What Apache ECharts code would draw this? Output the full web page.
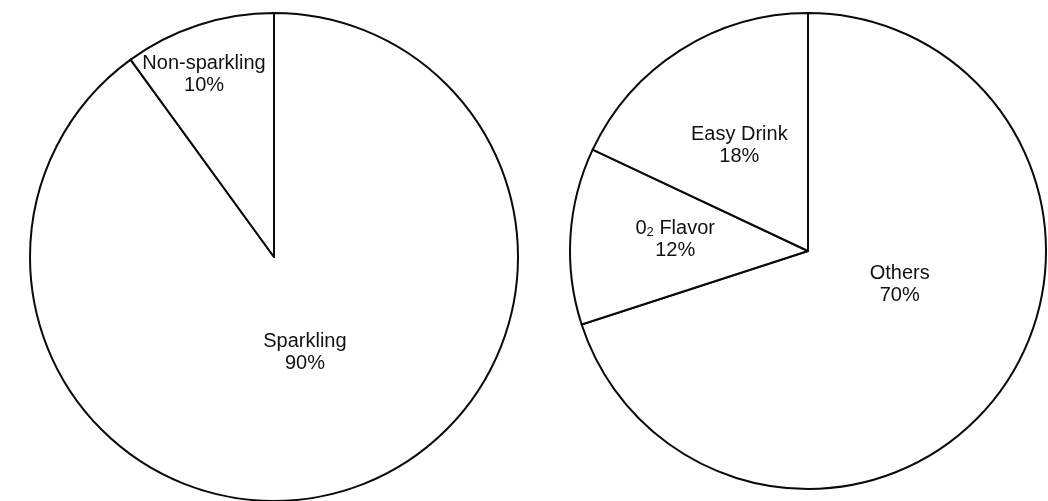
<!DOCTYPE html>
<html>
<head>
<meta charset="utf-8">
<script src="https://cdn.jsdelivr.net/npm/echarts@6/dist/echarts.min.js"></script>
<style>
  html, body { margin: 0; padding: 0; background: #fff; }
  #chart { width: 1048px; height: 501px; }
</style>
</head>
<body>
<div id="chart"></div>
<script>
// Market share by type (left) and by product line (right), in percent
const typeNames = ['Sparkling', 'Non-sparkling'];
const typeShares = [90, 10];

const lineNames = ['Others', '0₂ Flavor', 'Easy Drink'];
const lineShares = [70, 12, 18];

// Label placement inside each slice: fraction of the radius and bearing (degrees clockwise from 12 o'clock)
const typeLabelPlace = [[0.41, 162], [0.80, 339]];
const lineLabelPlace = [[0.41, 110], [0.56, 275], [0.53, 327]];

const pies = [
  { center: [274, 257], radius: 244, names: typeNames, values: typeShares, place: typeLabelPlace },
  { center: [808, 251], radius: 238, names: lineNames, values: lineShares, place: lineLabelPlace }
];

const chart = echarts.init(document.getElementById('chart'), null, { renderer: 'canvas' });

function makeSeries(p) {
  return {
    type: 'pie',
    center: p.center,
    radius: p.radius,
    startAngle: 90,
    clockwise: true,
    silent: true,
    animation: false,
    avoidLabelOverlap: false,
    itemStyle: { color: '#ffffff', borderColor: '#0a0a0a', borderWidth: 2 },
    label: {
      show: true,
      position: 'inside',
      color: '#111111',
      fontFamily: 'Liberation Sans, Arial, sans-serif',
      fontSize: 20,
      lineHeight: 22,
      align: 'center',
      formatter: function (prm) {
        const name = prm.name.replace('₂', '{sub|2}');
        return name + '\n' + prm.value + '%';
      },
      rich: {
        sub: { fontSize: 13, lineHeight: 22, padding: [9, 0, 0, 0], color: '#111111',
               fontFamily: 'Liberation Sans, Arial, sans-serif' }
      }
    },
    labelLine: { show: false },
    labelLayout: function (params) {
      const pl = p.place[params.dataIndex];
      const a = pl[1] * Math.PI / 180;
      const r = pl[0] * p.radius;
      return {
        x: p.center[0] + r * Math.sin(a),
        y: p.center[1] - r * Math.cos(a),
        align: 'center',
        verticalAlign: 'middle'
      };
    },
    data: p.names.map((n, i) => ({ name: n, value: p.values[i] }))
  };
}

chart.setOption({
  backgroundColor: '#ffffff',
  animation: false,
  series: pies.map(makeSeries)
});
</script>
</body>
</html>
